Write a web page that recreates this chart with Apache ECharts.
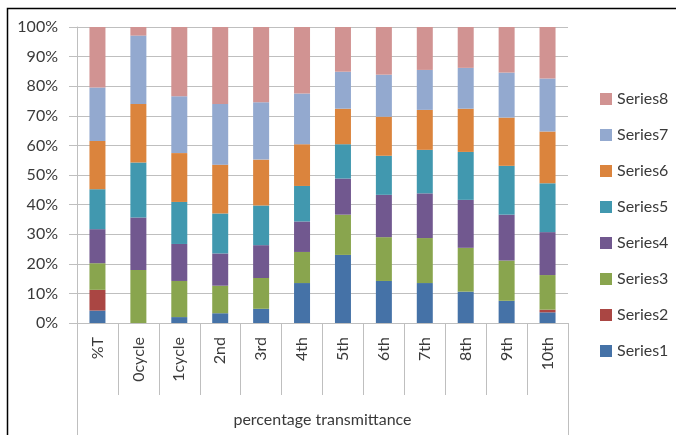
<!DOCTYPE html>
<html>
<head>
<meta charset="utf-8">
<script src="https://cdn.jsdelivr.net/npm/echarts@6/dist/echarts.min.js"></script>
<style>
  html, body { margin: 0; padding: 0; background: #fff; }
  #chart { width: 676px; height: 435px; }
</style>
</head>
<body>
<div id="chart"></div>
<script>
// Cycle categories along the x axis
const categories = ['%T', '0cycle', '1cycle', '2nd', '3rd', '4th', '5th', '6th', '7th', '8th', '9th', '10th'];
const groupLabel = 'percentage transmittance';
const seriesNames = ['Series1', 'Series2', 'Series3', 'Series4', 'Series5', 'Series6', 'Series7', 'Series8'];

// Share of each series per category (percent)
const series1 = [4.2, 0,    2.0,  3.3,  4.8,  13.5, 23.0, 14.2, 13.5, 10.6, 7.5,  3.6];
const series2 = [7.0, 0,    0,    0,    0,    0,    0,    0,    0,    0,    0,    0.9];
const series3 = [9.0, 17.9, 12.2, 9.3,  10.4, 10.5, 13.6, 14.8, 15.2, 14.8, 13.6, 11.7];
const series4 = [11.5, 17.7, 12.5, 10.9, 11.1, 10.3, 12.2, 14.3, 15.1, 16.2, 15.5, 14.5];
const series5 = [13.5, 18.6, 14.2, 13.5, 13.4, 12.0, 11.6, 13.2, 14.7, 16.2, 16.5, 16.5];
const series6 = [16.3, 19.8, 16.5, 16.5, 15.5, 14.1, 12.0, 13.2, 13.5, 14.6, 16.3, 17.5];
const series7 = [18.1, 23.1, 19.2, 20.5, 19.4, 17.1, 12.5, 14.2, 13.5, 13.8, 15.2, 17.9];
const series8 = [20.4, 2.9,  23.4, 26.0, 25.4, 22.5, 15.1, 16.1, 14.5, 13.8, 15.4, 17.4];

const yTicks = { min: 0, max: 100, interval: 10 };
const colors = ['#4572A7', '#AA4643', '#89A54E', '#71588F', '#4198AF', '#DB843D', '#93A9CF', '#D19392'];

const allValues = [series1, series2, series3, series4, series5, series6, series7, series8];
// 100% stacking: normalise each column to its total
const totals = categories.map((_, i) => allValues.reduce((s, arr) => s + arr[i], 0));

const textColor = '#3a3a3a';
const lineColor = '#bfbfbf';
const font = 'Lato, "Liberation Sans", sans-serif';

const chart = echarts.init(document.getElementById('chart'), null, { renderer: 'canvas' });

chart.setOption({
  animation: false,
  color: colors,
  textStyle: { fontFamily: font, color: textColor },
  grid: { left: 77, right: 108, top: 27, bottom: 112, containLabel: false },
  legend: {
    orient: 'vertical',
    left: 595,
    top: 86,
    itemWidth: 12,
    itemHeight: 12,
    itemGap: 20,
    icon: 'rect',
    data: seriesNames.slice().reverse(),
    textStyle: { fontFamily: font, fontSize: 16, color: textColor }
  },
  xAxis: [
    {
      type: 'category',
      data: categories,
      position: 'bottom',
      boundaryGap: true,
      axisLine: { show: true, lineStyle: { color: lineColor, width: 1 } },
      axisTick: { show: true, length: 72, alignWithLabel: false, lineStyle: { color: lineColor } },
      axisLabel: { rotate: 90, margin: 14, fontSize: 16, color: textColor, fontFamily: font, interval: 0 }
    },
    {
      type: 'category',
      data: [groupLabel],
      position: 'bottom',
      boundaryGap: true,
      axisLine: { show: false },
      axisTick: { show: true, length: 115, lineStyle: { color: lineColor } },
      axisLabel: { margin: 89, fontSize: 16, color: textColor, fontFamily: font }
    }
  ],
  yAxis: {
    type: 'value',
    min: yTicks.min,
    max: yTicks.max,
    interval: yTicks.interval,
    axisLine: { show: true, lineStyle: { color: lineColor } },
    axisTick: { show: true, length: 8, lineStyle: { color: lineColor } },
    splitLine: { show: true, lineStyle: { color: lineColor, width: 1 } },
    axisLabel: { formatter: '{value}%', margin: 19, fontSize: 16, color: textColor, fontFamily: font }
  },
  series: allValues.map((arr, k) => ({
    name: seriesNames[k],
    type: 'bar',
    stack: 'total',
    xAxisIndex: 0,
    barWidth: 16,
    data: arr.map((v, i) => v / totals[i] * 100)
  })),
  graphic: [
    {
      type: 'rect',
      shape: { x: 7.5, y: 8.5, width: 720, height: 500 },
      style: { fill: 'none', stroke: '#000', lineWidth: 1.5 },
      silent: true
    }
  ]
});
</script>
</body>
</html>
